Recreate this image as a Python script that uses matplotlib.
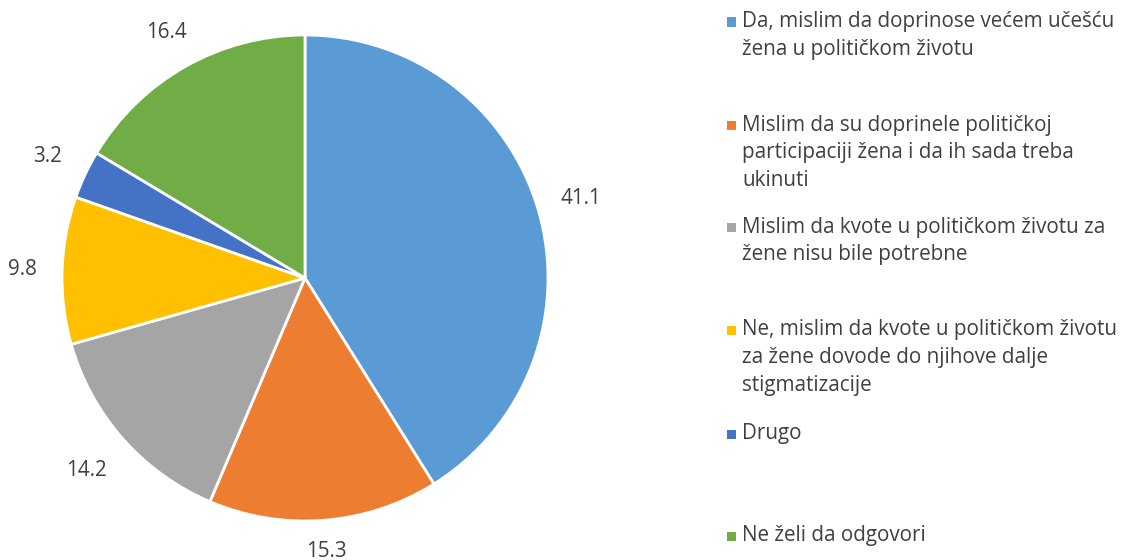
import matplotlib
matplotlib.use("Agg")
import matplotlib.pyplot as plt
from matplotlib.patches import Rectangle
import numpy as np

values = [41.1, 15.3, 14.2, 9.8, 3.2, 16.4]
value_labels = ["41.1", "15.3", "14.2", "9.8", "3.2", "16.4"]
categories = [
    ["Da, mislim da doprinose većem učešću", "žena u političkom životu"],
    ["Mislim da su doprinele političkoj", "participaciji žena i da ih sada treba", "ukinuti"],
    ["Mislim da kvote u političkom životu za", "žene nisu bile potrebne"],
    ["Ne, mislim da kvote u političkom životu", "za žene dovode do njihove dalje", "stigmatizacije"],
    ["Drugo"],
    ["Ne želi da odgovori"],
]
colors = ["#5B9BD5", "#ED7D31", "#A5A5A5", "#FFC000", "#4472C4", "#70AD47"]
label_dist = [1.18, 1.13, 1.2, 1.165, 1.17, 1.16]

plt.rcParams['font.family'] = ['Open Sans', 'DejaVu Sans']
FS = 14.9
W, H = 1125, 560
fig = plt.figure(figsize=(W/100, H/100), dpi=100)
cx, cy, r = 305, 278, 243
ax = fig.add_axes([(cx - r)/W, (H - cy - r)/H, 2*r/W, 2*r/H])
wedges, texts = ax.pie(values, labels=value_labels, colors=colors, startangle=90,
                       counterclock=False, radius=1, labeldistance=1.0,
                       wedgeprops=dict(edgecolor='white', linewidth=2),
                       textprops=dict(fontsize=FS, color='#404040'))
for t, d in zip(texts, label_dist):
    x, y = t.get_position()
    t.set_position((x*d, y*d))
    t.set_ha('center')
    t.set_va('center')
ax.set_xlim(-1, 1)
ax.set_ylim(-1, 1)
ax.set_aspect('equal')

# legend
first_y = [22, 125, 227, 330, 434, 536]
line_h = 27.5
for lines, col, y0 in zip(categories, colors, first_y):
    fig.patches.append(Rectangle((727/W, (H - y0 - 4.5)/H), 9/W, 9/H,
                                 transform=fig.transFigure, facecolor=col,
                                 edgecolor='none'))
    for i, line in enumerate(lines):
        y = y0 + i*line_h
        fig.text(742/W, (H - y)/H, line, fontsize=FS, color='#404040',
                 ha='left', va='center')

fig.savefig("out.png", dpi=100)
